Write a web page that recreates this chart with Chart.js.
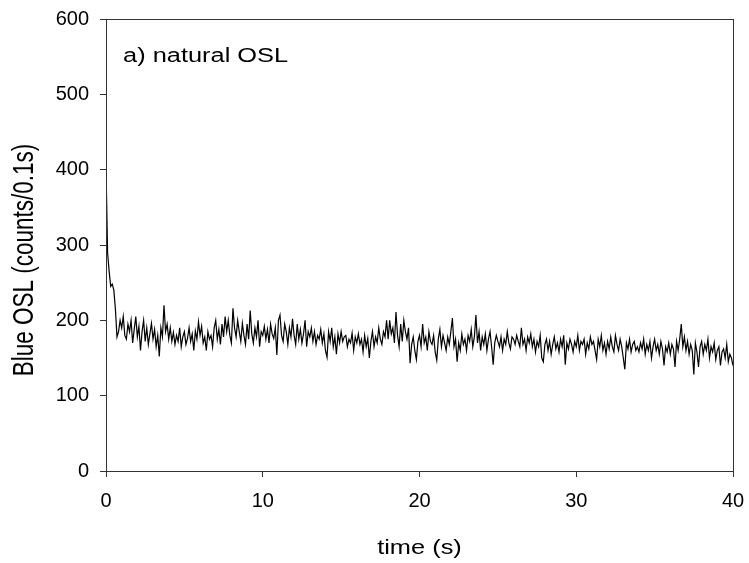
<!DOCTYPE html>
<html>
<head>
<meta charset="utf-8">
<script src="https://cdn.jsdelivr.net/npm/chart.js@4/dist/chart.umd.min.js"></script>
<style>
html,body{margin:0;padding:0;background:#fff;}
#wrap{width:749px;height:563px;}
</style>
</head>
<body>
<div id="wrap"><canvas id="c" width="749" height="563"></canvas></div>
<script>
// Sampling interval (s) of the OSL decay curve
const timeStep = 0.1;
const xTicks = [0, 10, 20, 30, 40];
const yTicks = [0, 100, 200, 300, 400, 500, 600];
const annotation = "a) natural OSL";
const xTitle = "time (s)";
const yTitle = "Blue OSL (counts/0.1s)";

// Blue OSL counts per 0.1 s channel (t = 0.0 ... 40.0 s)
const counts = [
405,290,265,245,248,240,215,178,185,200,
190,205,180,175,195,185,200,170,188,205,
178,192,160,185,200,172,190,168,182,196,
175,188,165,180,152,190,178,220,185,195,
175,190,172,184,168,180,172,190,165,178,
185,168,176,190,172,182,160,186,175,198,
180,192,170,178,160,185,175,180,165,190,
200,175,188,168,195,178,205,185,200,180,
170,216,190,178,200,185,172,196,180,168,
195,175,213,182,170,190,178,200,165,185,
180,192,175,188,170,195,182,176,190,154,
200,207,180,172,195,185,168,190,178,202,
180,168,195,175,188,170,182,200,165,185,
178,190,172,185,168,180,175,188,170,182,
160,151,185,172,190,165,178,155,182,170,
185,172,178,180,165,175,170,183,160,178,
170,182,168,175,158,180,165,176,150,172,
185,165,178,170,190,175,168,185,178,200,
175,200,182,190,170,211,180,165,195,172,
200,185,175,190,143,168,178,160,148,172,
180,165,195,170,178,160,185,172,168,180,
158,147,175,188,165,180,170,160,178,168,
185,203,165,175,145,170,160,182,168,175,
160,180,172,188,165,178,207,170,185,160,
178,168,182,160,175,185,165,141,170,180,
172,165,178,160,175,168,185,170,162,178,
175,168,180,172,165,190,168,175,160,178,
170,182,165,175,158,172,165,180,150,145,
168,175,160,172,155,168,178,162,170,158,
175,165,180,141,170,162,175,168,158,172,
165,180,160,172,168,175,155,170,162,178,
168,172,160,148,175,165,180,160,170,155,
172,162,178,165,158,180,168,160,175,165,
150,135,170,162,175,158,168,172,160,165,
158,170,162,175,155,168,160,172,150,165,
175,160,168,155,172,162,140,165,158,170,
155,168,162,138,172,160,175,195,165,178,
160,172,155,168,160,128,170,158,138,165,
172,155,168,160,175,150,165,158,170,148,
160,165,140,158,162,150,168,145,155,150,
140
];

const points = counts.map((v, i) => ({ x: Math.round(i * timeStep * 10) / 10, y: v }));

const FONT = "'Liberation Sans', Arial, sans-serif";
const AXIS = '#333';

const framePlugin = {
  id: 'frame',
  afterDraw(chart) {
    const { ctx, chartArea: a } = chart;
    ctx.save();
    ctx.strokeStyle = AXIS;
    ctx.lineWidth = 1;
    ctx.strokeRect(Math.round(a.left) + 0.5, Math.round(a.top) + 0.5,
                   Math.round(a.right - a.left), Math.round(a.bottom - a.top));
    ctx.fillStyle = '#000';
    ctx.font = "20px " + FONT;
    // annotation inside the plot
    ctx.save();
    ctx.translate(a.left + 17, a.top + 43);
    ctx.scale(1.27, 1);
    ctx.textAlign = 'left';
    ctx.textBaseline = 'alphabetic';
    ctx.fillText(annotation, 0, 0);
    ctx.restore();
    // x title
    ctx.save();
    ctx.translate((a.left + a.right) / 2, 548);
    ctx.scale(1.27, 1);
    ctx.textAlign = 'center';
    ctx.textBaseline = 'middle';
    ctx.fillText(xTitle, 0, 0);
    ctx.restore();
    // y title
    ctx.save();
    ctx.translate(25, 260);
    ctx.rotate(-Math.PI / 2);
    ctx.scale(1, 1.3);
    ctx.font = "22.5px " + FONT;
    ctx.textAlign = 'center';
    ctx.textBaseline = 'middle';
    ctx.fillText(yTitle, 0, 0);
    ctx.restore();
    ctx.restore();
  }
};

new Chart(document.getElementById('c'), {
  type: 'line',
  data: {
    datasets: [{
      data: points,
      borderColor: '#000',
      borderWidth: 1.2,
      pointRadius: 0,
      tension: 0,
      fill: false
    }]
  },
  options: {
    responsive: false,
    animation: false,
    events: [],
    layout: { padding: { top: 19, right: 16, left: 0, bottom: 0 } },
    plugins: { legend: { display: false }, tooltip: { enabled: false } },
    scales: {
      x: {
        type: 'linear',
        min: 0, max: 40,
        afterBuildTicks(s) { s.ticks = xTicks.map(v => ({ value: v })); },
        afterFit(s) { s.height = 92; s.paddingLeft = 0; s.paddingRight = 0; },
        border: { display: true, color: AXIS, width: 1 },
        grid: { drawOnChartArea: false, drawTicks: true, tickLength: 6, color: AXIS },
        ticks: { color: '#000', font: { family: FONT, size: 20 }, padding: 12, maxRotation: 0 },
        title: { display: false }
      },
      y: {
        type: 'linear',
        min: 0, max: 600,
        afterBuildTicks(s) { s.ticks = yTicks.map(v => ({ value: v })); },
        afterFit(s) { s.width = 106; s.paddingTop = 0; s.paddingBottom = 0; },
        border: { display: true, color: AXIS, width: 1 },
        grid: { drawOnChartArea: false, drawTicks: true, tickLength: 6, color: AXIS },
        ticks: { color: '#000', font: { family: FONT, size: 20 }, padding: 11 },
        title: { display: false }
      }
    }
  },
  plugins: [framePlugin]
});
</script>
</body>
</html>
